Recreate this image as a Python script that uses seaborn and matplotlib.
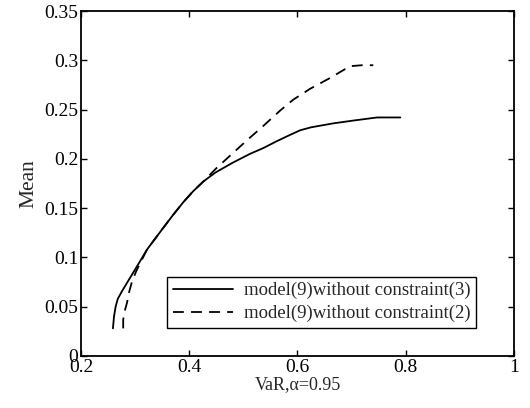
import matplotlib
matplotlib.use("Agg")
import matplotlib.pyplot as plt
import seaborn as sns
import pandas as pd

# Data
var_solid = [0.259, 0.261, 0.264, 0.268, 0.275, 0.287, 0.298, 0.309, 0.322, 0.337,
             0.352, 0.370, 0.389, 0.407, 0.426, 0.448, 0.480, 0.512, 0.537, 0.562,
             0.585, 0.605, 0.625, 0.666, 0.705, 0.747, 0.790]
mean_solid = [0.028, 0.040, 0.050, 0.058, 0.065, 0.076, 0.086, 0.096, 0.108, 0.119,
              0.130, 0.143, 0.156, 0.167, 0.177, 0.186, 0.196, 0.205, 0.211, 0.218,
              0.224, 0.229, 0.232, 0.236, 0.239, 0.242, 0.242]

var_dashed = [0.278, 0.278, 0.281, 0.285, 0.289, 0.294, 0.302, 0.311, 0.322, 0.337,
              0.352, 0.370, 0.389, 0.407, 0.426, 0.451, 0.481, 0.509, 0.536, 0.568,
              0.592, 0.623, 0.660, 0.697, 0.719, 0.740]
mean_dashed = [0.028, 0.037, 0.046, 0.054, 0.065, 0.075, 0.086, 0.096, 0.108, 0.119,
               0.130, 0.143, 0.156, 0.167, 0.177, 0.191, 0.206, 0.220, 0.233, 0.249,
               0.260, 0.271, 0.282, 0.294, 0.295, 0.295]

label_solid = "model(9)without constraint(3)"
label_dashed = "model(9)without constraint(2)"

xticks = [0.2, 0.4, 0.6, 0.8, 1.0]
xticklabels = ["0.2", "0.4", "0.6", "0.8", "1"]
yticks = [0, 0.05, 0.1, 0.15, 0.2, 0.25, 0.3, 0.35]
yticklabels = ["0", "0.05", "0.1", "0.15", "0.2", "0.25", "0.3", "0.35"]

df = pd.concat([
    pd.DataFrame({"VaR": var_solid, "Mean": mean_solid, "series": label_solid}),
    pd.DataFrame({"VaR": var_dashed, "Mean": mean_dashed, "series": label_dashed}),
], ignore_index=True)

sns.set_style("ticks")
plt.rcParams["font.family"] = ["Liberation Serif", "DejaVu Serif"]

fig = plt.figure(figsize=(5.3, 4.08), dpi=100)
ax = fig.add_axes([0.1528, 0.1275, 0.8170, 0.8455])

sns.lineplot(data=df, x="VaR", y="Mean", hue="series", style="series",
             palette={label_solid: "black", label_dashed: "black"},
             dashes={label_solid: "", label_dashed: (6, 4)},
             sort=False, estimator=None, lw=1.3, ax=ax)

ax.set_xlim(0.2, 1.0)
ax.set_ylim(0, 0.35)
ax.set_xticks(xticks)
ax.set_xticklabels(xticklabels)
ax.set_yticks(yticks)
ax.set_yticklabels(yticklabels)
ax.tick_params(direction="in", length=4, width=1, top=True, right=True,
               labelsize=14, colors="black", pad=2)
for s in ax.spines.values():
    s.set_visible(True)
    s.set_linewidth(1.3)
    s.set_color("black")

ax.set_xlabel("VaR,α=0.95", fontsize=13, labelpad=0)
ax.set_ylabel("Mean", fontsize=15.5, labelpad=4)

leg = ax.legend(loc="lower left", bbox_to_anchor=(0.199, 0.081), fontsize=13.5,
                frameon=True, fancybox=False, edgecolor="black", framealpha=1,
                borderaxespad=0, handlelength=3.2, borderpad=0.3, labelspacing=0.3,
                handletextpad=0.6)
leg.get_frame().set_linewidth(1.0)
leg.set_title(None)

fig.savefig("out.png", dpi=100)
